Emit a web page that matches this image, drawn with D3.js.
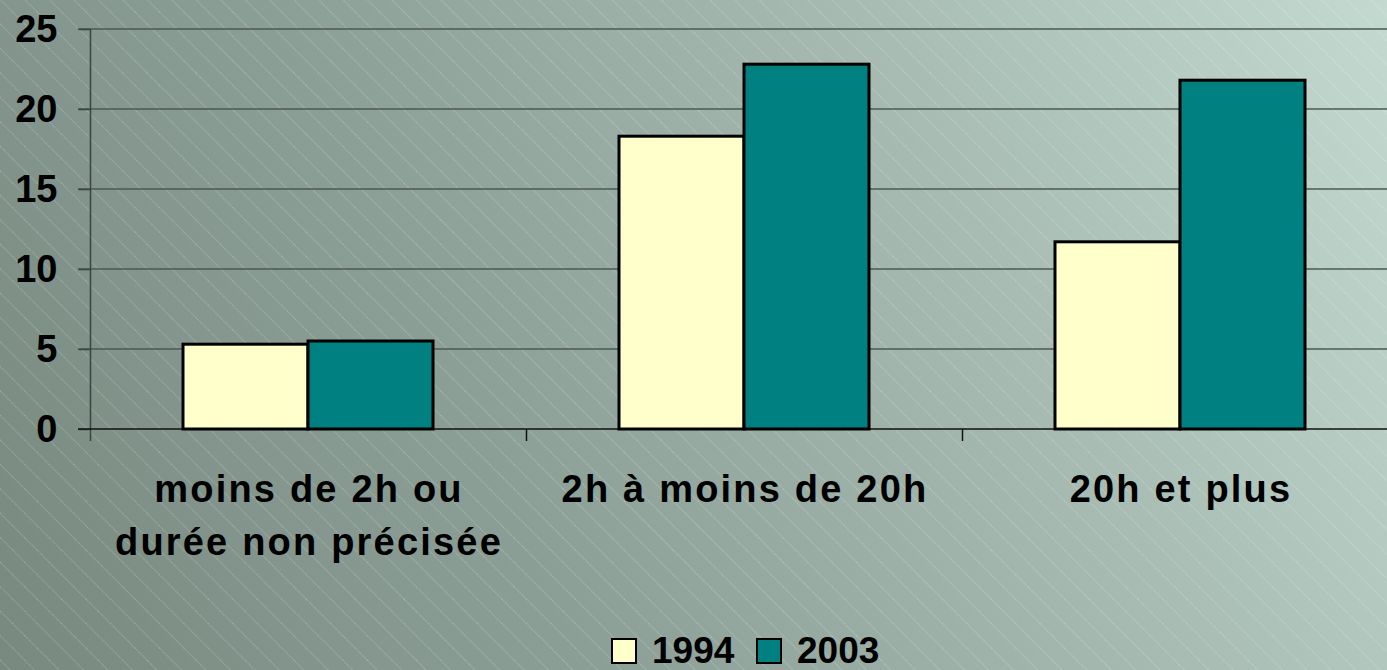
<!DOCTYPE html>
<html>
<head>
<meta charset="utf-8">
<script src="https://cdn.jsdelivr.net/npm/d3@7"></script>
<style>
  html, body { margin: 0; padding: 0; overflow: hidden; }
  svg { display: block; }
  text { font-family: "Liberation Sans", Arial, sans-serif; font-weight: bold; fill: #000; }
</style>
</head>
<body>
<script>
// ---- data ----
const categories = [["moins de 2h ou", "durée non précisée"], ["2h à moins de 20h"], ["20h et plus"]];
const seriesNames = ["1994", "2003"];
const values1994 = [5.3, 18.3, 11.7];
const values2003 = [5.5, 22.8, 21.8];
const yTicks = [0, 5, 10, 15, 20, 25];
const seriesColors = ["#FFFFCC", "#008080"];

const W = 1387, H = 670;
const svg = d3.select("body").append("svg").attr("width", W).attr("height", H);
const defs = svg.append("defs");

// background gradient
const grad = defs.append("linearGradient").attr("id", "bg")
  .attr("gradientUnits", "userSpaceOnUse")
  .attr("x1", 0).attr("y1", H).attr("x2", W).attr("y2", 0);
grad.append("stop").attr("offset", "0%").attr("stop-color", "#78897f");
grad.append("stop").attr("offset", "35%").attr("stop-color", "#8c9f97");
grad.append("stop").attr("offset", "70%").attr("stop-color", "#a8bcb3");
grad.append("stop").attr("offset", "100%").attr("stop-color", "#c3dad1");

// hatch pattern
const pat = defs.append("pattern").attr("id", "hatch")
  .attr("patternUnits", "userSpaceOnUse")
  .attr("width", 17.3).attr("height", 17.3)
  .attr("patternTransform", "rotate(-45)");
pat.append("line").attr("x1", 0.5).attr("y1", 0).attr("x2", 0.5).attr("y2", 17.3)
  .attr("stroke", "#ffffff").attr("stroke-opacity", 0.3).attr("stroke-width", 1)
  .attr("stroke-dasharray", "1,1");

svg.append("rect").attr("width", W).attr("height", H).attr("fill", "url(#bg)");
svg.append("rect").attr("width", W).attr("height", H).attr("fill", "url(#hatch)");

// scales
const x0 = d3.scaleBand().domain(d3.range(categories.length)).range([90, 1398]).padding(0);
const groupW = 250;
const x1 = d3.scaleBand().domain(seriesNames).range([0, groupW]).padding(0);
const y = d3.scaleLinear().domain([0, 25]).range([429, 29]);

// gridlines
svg.append("g").selectAll("line").data(yTicks.filter(d => d > 0)).join("line")
  .attr("x1", 78).attr("x2", W).attr("y1", d => y(d)).attr("y2", d => y(d))
  .attr("stroke", "#4d5853").attr("stroke-width", 1.5);

// y axis
const yAxis = d3.axisLeft(y).tickValues(yTicks).tickSize(12).tickFormat(d3.format("d"));
const gy = svg.append("g").attr("transform", "translate(90.5,0)").call(yAxis);
gy.select(".domain").attr("d", `M0,${y(25)}V441`).attr("stroke", "#3a4440").attr("stroke-width", 1.5);
gy.selectAll(".tick line").attr("stroke", "#3a4440").attr("stroke-width", 1.5);
gy.selectAll(".tick text").attr("x", -33).attr("dy", null).attr("y", 12)
  .attr("font-size", 38).attr("font-family", null).attr("font-weight", null);
gy.attr("font-size", null).attr("font-family", null);

// x axis
const xAxis = d3.axisBottom(x0).tickValues([]).tickSizeOuter(0);
const gx = svg.append("g").attr("transform", `translate(0,${y(0)})`).call(xAxis);
gx.select(".domain").attr("d", `M78,0H${W}`).attr("stroke", "#111").attr("stroke-width", 1.5);
svg.append("g").selectAll("line").data(d3.range(1, categories.length)).join("line")
  .attr("x1", d => x0(d) + 0.5).attr("x2", d => x0(d) + 0.5)
  .attr("y1", y(0)).attr("y2", 441).attr("stroke", "#111").attr("stroke-width", 1.5);

// bars
const rows = categories.map((c, i) => ({ i, vals: [values1994[i], values2003[i]] }));
const groups = svg.append("g").selectAll("g").data(rows).join("g")
  .attr("transform", d => `translate(${x0(d.i) + (x0.bandwidth() - groupW) / 2},0)`);
groups.selectAll("rect").data(d => d.vals.map((v, k) => ({ v, k }))).join("rect")
  .attr("x", d => x1(seriesNames[d.k]))
  .attr("width", x1.bandwidth())
  .attr("y", d => y(d.v))
  .attr("height", d => y(0) - y(d.v))
  .attr("fill", d => seriesColors[d.k])
  .attr("stroke", "#000").attr("stroke-width", 3);

// category labels
const lab = svg.append("g").selectAll("text").data(categories).join("text")
  .attr("text-anchor", "middle").attr("font-size", 38).style("letter-spacing", "2.2px");
lab.each(function (lines, i) {
  const t = d3.select(this);
  lines.forEach((ln, j) => {
    t.append("tspan").attr("x", x0(i) + x0.bandwidth() / 2 + 1).attr("y", 502 + j * 53).text(ln);
  });
});

// legend
const legX = [612, 757];
const leg = svg.append("g").selectAll("g").data(seriesNames).join("g")
  .attr("transform", (d, i) => `translate(${legX[i]},639)`);
leg.append("rect").attr("width", 24).attr("height", 24)
  .attr("fill", (d, i) => seriesColors[i]).attr("stroke", "#000").attr("stroke-width", 2);
leg.append("text").attr("x", 40).attr("y", 24).attr("font-size", 37).text(d => d);
</script>
</body>
</html>
